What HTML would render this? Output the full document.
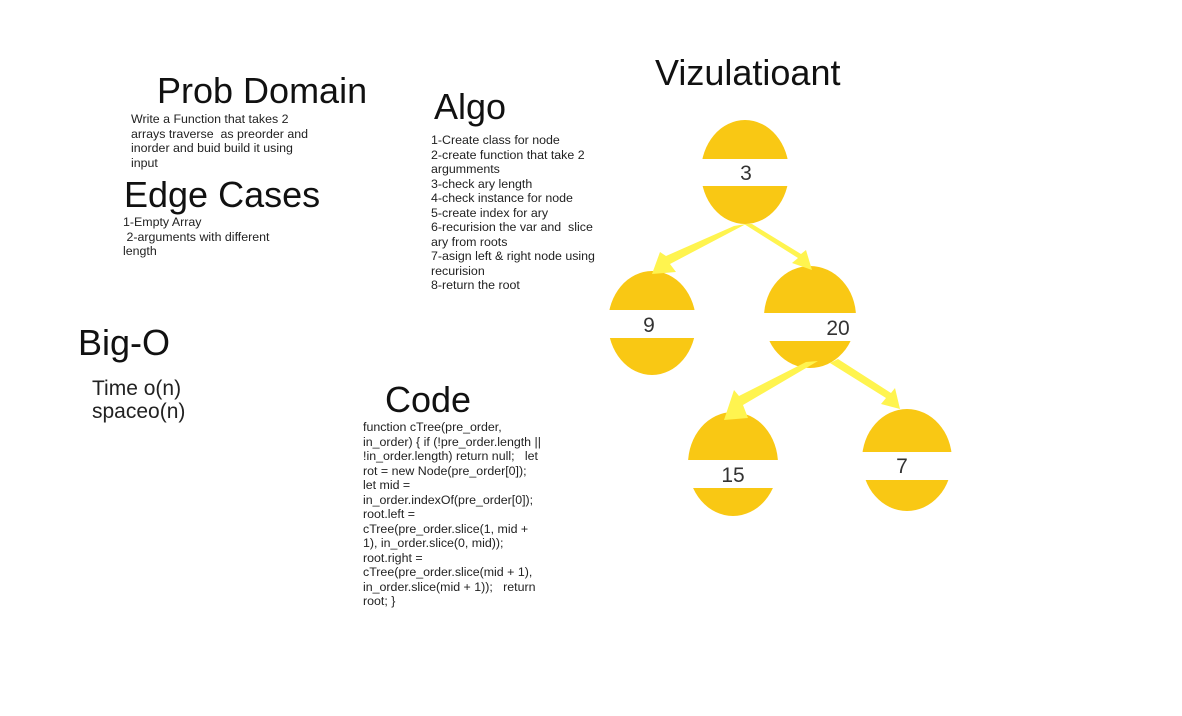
<!DOCTYPE html>
<html><head><style>
body{margin:0;width:1182px;height:716px;background:#fff;position:relative;overflow:hidden;font-family:"Liberation Sans",Arial,sans-serif;color:#222}
.t{position:absolute;white-space:nowrap}
.h{font-size:36px;color:#111}
.s{font-size:12.4px;line-height:14.5px;color:#222}
</style></head><body>
<div class="t h" style="left:157px;top:70px">Prob Domain</div>
<div class="t s" style="left:131px;top:112px">Write a Function that takes 2<br>arrays traverse&nbsp; as preorder and<br>inorder and buid build it using<br>input</div>
<div class="t h" style="left:124px;top:174px">Edge Cases</div>
<div class="t s" style="left:123px;top:215px">1-Empty Array<br>&nbsp;2-arguments with different<br>length</div>
<div class="t h" style="left:78px;top:322px">Big-O</div>
<div class="t" style="left:92px;top:377px;font-size:21px;line-height:23px">Time o(n)<br>spaceo(n)</div>
<div class="t h" style="left:434px;top:86px">Algo</div>
<div class="t s" style="left:431px;top:133px">1-Create class for node<br>2-create function that take 2<br>argumments<br>3-check ary length<br>4-check instance for node<br>5-create index for ary<br>6-recurision the var and&nbsp; slice<br>ary from roots<br>7-asign left &amp; right node using<br>recurision<br>8-return the root</div>
<div class="t h" style="left:385px;top:379px">Code</div>
<div class="t s" style="left:363px;top:420px">function cTree(pre_order,<br>in_order) { if (!pre_order.length ||<br>!in_order.length) return null;&nbsp;&nbsp; let<br>rot = new Node(pre_order[0]);<br>let mid =<br>in_order.indexOf(pre_order[0]);<br>root.left =<br>cTree(pre_order.slice(1, mid +<br>1), in_order.slice(0, mid));<br>root.right =<br>cTree(pre_order.slice(mid + 1),<br>in_order.slice(mid + 1));&nbsp;&nbsp; return<br>root; }</div>
<div class="t h" style="left:655px;top:52px">Vizulatioant</div>
<svg width="1182" height="716" style="position:absolute;left:0;top:0">
<g fill="#f9c814">
<ellipse cx="745" cy="172" rx="44" ry="52"/>
<ellipse cx="652" cy="323" rx="44" ry="52"/>
<ellipse cx="810" cy="317" rx="46" ry="51"/>
<ellipse cx="733" cy="464" rx="45" ry="52"/>
<ellipse cx="907" cy="460" rx="45" ry="51"/>
</g>
<g fill="#fff">
<rect x="690" y="159" width="110" height="27"/>
<rect x="600" y="310" width="110" height="28"/>
<rect x="755" y="313" width="110" height="28"/>
<rect x="680" y="460" width="110" height="28"/>
<rect x="855" y="452" width="110" height="28"/>
</g>
<g fill="#fff44f">
<polygon points="746,224 734,226 666,256 660,252 652,274 676,272 670,264"/>
<polygon points="744,224 798,258 792,263 812,270 806,250 801,254 752,224"/>
<polygon points="818,361 806,362 739,396 734,390 724,420 748,418 743,405"/>
<polygon points="838,359 830,363 886,398 881,404 900,409 895,388 891,393"/>
</g>
<g font-family="Liberation Sans,Arial,sans-serif" font-size="21" fill="#333" text-anchor="middle">
<text x="746" y="180">3</text>
<text x="649" y="332">9</text>
<text x="838" y="335">20</text>
<text x="733" y="482">15</text>
<text x="902" y="473">7</text>
</g>
</svg>
</body></html>
